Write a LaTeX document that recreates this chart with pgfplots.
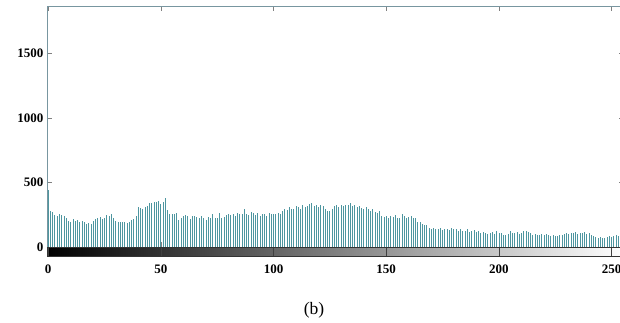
\documentclass[border=0pt]{standalone}
\usepackage{fontspec}
\setmainfont{Liberation Serif}
\usepackage{pgfplots}
\usepackage{pgfplotstable}
\pgfplotsset{compat=1.18}
\definecolor{stem}{RGB}{78,150,160}
\definecolor{axl}{RGB}{120,150,160}
\pgfplotstableread{
x y
0 440
1 280
2 275
3 250
4 245
5 260
6 250
7 245
8 225
9 205
10 200
11 220
12 205
13 210
14 200
15 205
16 195
17 185
18 190
19 185
20 205
21 220
22 225
23 235
24 220
25 230
26 250
27 240
28 260
29 225
30 205
31 200
32 200
33 195
34 200
35 190
36 195
37 210
38 220
39 240
40 310
41 305
42 300
43 310
44 320
45 345
46 340
47 355
48 350
49 360
50 335
51 355
52 380
53 290
54 260
55 255
56 260
57 265
58 215
59 230
60 240
61 250
62 245
63 220
64 240
65 245
66 235
67 225
68 240
69 230
70 215
71 235
72 230
73 255
74 225
75 230
76 270
77 225
78 235
79 250
80 255
81 250
82 260
83 245
84 270
85 260
86 255
87 300
88 260
89 250
90 275
91 265
92 250
93 270
94 245
95 260
96 255
97 240
98 265
99 255
100 260
101 255
102 265
103 260
104 280
105 300
106 290
107 310
108 300
109 295
110 320
111 310
112 300
113 330
114 310
115 320
116 335
117 340
118 320
119 330
120 315
121 325
122 320
123 300
124 285
125 280
126 300
127 320
128 330
129 315
130 325
131 320
132 330
133 325
134 340
135 320
136 330
137 315
138 320
139 305
140 300
141 310
142 295
143 285
144 300
145 275
146 270
147 285
148 240
149 235
150 245
151 230
152 240
153 235
154 250
155 225
156 230
157 255
158 240
159 225
160 235
161 240
162 225
163 230
164 200
165 195
166 185
167 175
168 170
169 150
170 145
171 150
172 140
173 145
174 150
175 135
176 140
177 145
178 135
179 150
180 140
181 145
182 130
183 140
184 125
185 130
186 140
187 120
188 125
189 135
190 120
191 125
192 115
193 120
194 110
195 105
196 110
197 120
198 105
199 125
200 110
201 115
202 100
203 95
204 105
205 125
206 110
207 115
208 120
209 105
210 110
211 125
212 130
213 120
214 110
215 100
216 105
217 95
218 100
219 105
220 100
221 105
222 95
223 90
224 95
225 85
226 90
227 95
228 100
229 105
230 110
231 105
232 115
233 110
234 120
235 105
236 115
237 110
238 120
239 105
240 110
241 100
242 85
243 80
244 75
245 80
246 70
247 75
248 80
249 85
250 80
251 90
252 95
253 85
254 90
255 100
}\histdata
\begin{document}
\begin{tikzpicture}[x=1pt,y=1pt]
\begin{axis}[
  at={(47pt,75.5pt)}, anchor=south west,
  scale only axis, width=577pt, height=241pt,
  xmin=-0.5, xmax=255.5, ymin=0, ymax=1860,
  ytick={0,500,1000,1500},
  xtick={0,50,...,250}, xticklabels={},
  tick align=inside, major tick length=5pt,
  ticklabel style={font=\fontsize{13}{13}\selectfont\bfseries},
  /pgf/number format/assume math mode=true,
  /pgf/number format/1000 sep={},
  scaled y ticks=false,
  axis line style={line width=0.8pt},
  every outer x axis line/.append style={gray!55},
  every outer y axis line/.append style={axl},
  tick style={gray, line width=0.6pt},
]
\addplot[ycomb, no marks, stem, line width=0.8pt] table[x=x,y=y] {\histdata};
\end{axis}
\begin{axis}[
  at={(47pt,67pt)}, anchor=south west,
  scale only axis, width=577pt, height=8.5pt,
  xmin=-0.5, xmax=255.5, ymin=0, ymax=1,
  ytick=\empty,
  xtick={0,50,...,250},
  xtick pos=bottom,
  tick align=inside, major tick length=8.5pt,
  axis on top,
  ticklabel style={font=\fontsize{13}{13}\selectfont\bfseries},
  xticklabel style={yshift=-5pt},
  /pgf/number format/assume math mode=true,
  axis line style={black!80, line width=0.6pt},
  tick style={black!75, line width=0.6pt},
]
\fill[left color=black, right color=white] (axis cs:-0.5,0) rectangle (axis cs:255.5,1);
\end{axis}
\node[font=\fontsize{17.5}{17.5}\selectfont] at (314pt,12.3pt) {(b)};
\pgfresetboundingbox
\path[use as bounding box] (0,0) rectangle (620pt,323pt);
\end{tikzpicture}
\end{document}
